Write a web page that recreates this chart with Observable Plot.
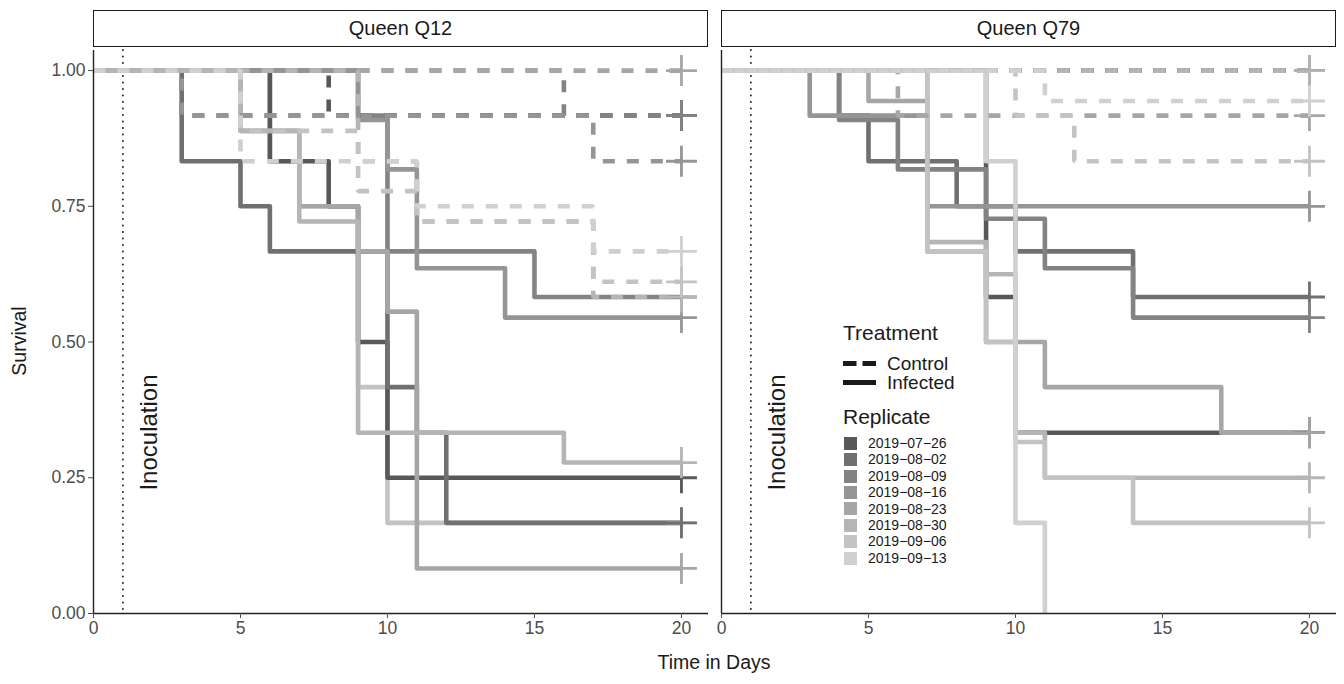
<!DOCTYPE html>
<html>
<head>
<meta charset="utf-8">
<script src="https://cdn.jsdelivr.net/npm/d3@7"></script>
<script src="https://cdn.jsdelivr.net/npm/@observablehq/plot@0.6"></script>
<style>
  body { margin: 0; background: #fff; font-family: "Liberation Sans", Arial, sans-serif; }
  #wrap { position: relative; width: 1344px; height: 684px; overflow: hidden; }
  .strip { position: absolute; top: 10px; height: 37px; width: 615px; box-sizing: border-box;
           border: 1.6px solid #1a1a1a; display: flex; align-items: center; justify-content: center;
           font-size: 20px; color: #1a1a1a; background: #fff; }
  #chart { position: absolute; left: 0; top: 50px; }
  .abs { position: absolute; white-space: nowrap; color: #1a1a1a; }
</style>
</head>
<body>
<div id="wrap"></div>
<script>
// ---------- data ----------
const replicates = ["2019-07-26","2019-08-02","2019-08-09","2019-08-16","2019-08-23","2019-08-30","2019-09-06","2019-09-13"];
const greys = ["#58585a","#707073","#838386","#959598","#a6a6a9","#b5b5b8","#c3c3c5","#d0d0d2"];
const queens = ["Queen Q12","Queen Q79"];
const treatments = ["Control","Infected"];
const xTicks = [0, 5, 10, 15, 20];
const yTicks = [0, 0.25, 0.5, 0.75, 1];
const inoculationDay = 1;
const inoculationLabel = "Inoculation";

// Kaplan-Meier steps: [day, survival]; each curve paired with its replicate label
const q12InfectedReps = ["2019-09-06","2019-07-26","2019-08-02","2019-08-09","2019-08-16","2019-08-23","2019-08-30"];
const q12InfectedSteps = [
  [[0,1],[6,0.833],[7,0.75],[9,0.417],[10,0.167],[20,0.167]],
  [[0,1],[6,0.833],[8,0.75],[9,0.5],[10,0.25],[20,0.25]],
  [[0,1],[3,0.833],[5,0.75],[6,0.667],[10,0.417],[11,0.333],[12,0.167],[20,0.167]],
  [[0,1],[9,0.917],[10,0.667],[15,0.583],[20,0.583]],
  [[0,1],[9,0.909],[10,0.818],[11,0.636],[14,0.545],[20,0.545]],
  [[0,1],[5,0.889],[7,0.75],[9,0.667],[10,0.556],[11,0.083],[20,0.083]],
  [[0,1],[5,0.889],[7,0.722],[9,0.333],[16,0.278],[20,0.278]]
];
const q12ControlReps = ["2019-07-26","2019-08-02","2019-08-09","2019-08-16","2019-08-23","2019-08-30","2019-09-06","2019-09-13"];
const q12ControlSteps = [
  [[0,1],[8,0.917],[20,0.917]],
  [[0,1],[3,0.917],[20,0.917]],
  [[0,1],[16,0.917],[20,0.917]],
  [[0,1],[3,0.917],[17,0.833],[20,0.833]],
  [[0,1],[20,1]],
  [[0,1],[9,0.833],[11,0.722],[17,0.583],[20,0.583]],
  [[0,1],[5,0.889],[9,0.778],[11,0.722],[17,0.611],[20,0.611]],
  [[0,1],[5,0.833],[11,0.75],[17,0.667],[20,0.667]]
];
const q79InfectedReps = ["2019-07-26","2019-08-02","2019-08-09","2019-08-16","2019-08-23","2019-08-30","2019-09-06","2019-09-13"];
const q79InfectedSteps = [
  [[0,1],[9,0.583],[10,0.333],[20,0.333]],
  [[0,1],[4,0.917],[5,0.833],[8,0.75],[10,0.667],[14,0.583],[20,0.583]],
  [[0,1],[4,0.909],[6,0.818],[9,0.727],[11,0.636],[14,0.545],[20,0.545]],
  [[0,1],[3,0.917],[7,0.75],[20,0.75]],
  [[0,1],[5,0.944],[7,0.667],[9,0.5],[11,0.417],[17,0.333],[20,0.333]],
  [[0,1],[7,0.684],[9,0.625],[10,0.333],[11,0.25],[20,0.25]],
  [[0,1],[7,0.667],[9,0.5],[10,0.316],[11,0.25],[14,0.167],[20,0.167]],
  [[0,1],[9,0.833],[10,0.167],[11,0]]
];
const q79ControlReps = ["2019-07-26","2019-08-02","2019-08-09","2019-08-16","2019-08-23","2019-08-30","2019-09-06","2019-09-13"];
const q79ControlSteps = [
  [[0,1],[20,1]],
  [[0,1],[20,1]],
  [[0,1],[20,1]],
  [[0,1],[20,1]],
  [[0,1],[6,0.917],[20,0.917]],
  [[0,1],[20,1]],
  [[0,1],[10,0.917],[12,0.833],[20,0.833]],
  [[0,1],[11,0.944],[20,0.944]]
];

// ---------- build tables ----------
function build(queen, treatment, reps, curves) {
  return curves.flatMap((steps, i) => steps.map(([time, surv]) => ({
    queen, treatment, replicate: reps[i], id: queen + "|" + treatment + "|" + i, time, surv
  })));
}
const infectedRows = [
  ...build(queens[0], treatments[1], q12InfectedReps, q12InfectedSteps),
  ...build(queens[1], treatments[1], q79InfectedReps, q79InfectedSteps)
];
const controlRows = [
  ...build(queens[0], treatments[0], q12ControlReps, q12ControlSteps),
  ...build(queens[1], treatments[0], q79ControlReps, q79ControlSteps)
];
const ends = d3.groups([...infectedRows, ...controlRows], d => d.id)
  .map(([, v]) => v[v.length - 1])
  .filter(d => d.surv > 0);

const font = "'Liberation Sans', Arial, sans-serif";

const chart = Plot.plot({
  width: 1344,
  height: 634,
  marginTop: 0,
  marginLeft: 93,
  marginRight: 8,
  marginBottom: 71,
  style: { fontFamily: font, background: "transparent", overflow: "visible" },
  fx: { domain: queens, paddingInner: 0.0207, paddingOuter: 0, round: false, axis: null },
  x: { domain: [0, 20.92] },
  y: { domain: [0, 1.037] },
  color: { domain: replicates, range: greys },
  marks: [
    Plot.ruleX([inoculationDay], { stroke: "#111", strokeWidth: 1.8, strokeDasharray: "0,6.5", strokeLinecap: "round" }),
    Plot.text([inoculationLabel], { x: () => inoculationDay, y: () => 1/3, dx: 26, rotate: -90, text: d => d, fontSize: 24, fill: "#1a1a1a" }),
    Plot.line(infectedRows, { x: "time", y: "surv", z: "id", fx: "queen", stroke: "replicate", curve: "step-after",
      strokeWidth: 4.6, strokeLinejoin: "round", strokeLinecap: "butt" }),
    Plot.line(controlRows, { x: "time", y: "surv", z: "id", fx: "queen", stroke: "replicate", curve: "step-after",
      strokeWidth: 4.6, strokeLinejoin: "miter", strokeLinecap: "butt", strokeDasharray: "12,12" }),
    Plot.dot(ends, { x: "time", y: "surv", fx: "queen", stroke: "replicate", symbol: "plus", r: 10, strokeWidth: 2.8 }),
    Plot.ruleX([0], { stroke: "#222", strokeWidth: 1.4 }),
    Plot.ruleY([0], { stroke: "#222", strokeWidth: 1.4 }),
    Plot.axisY({ ticks: yTicks, tickFormat: d3.format(".2f"), tickSize: 5, tickPadding: 3, fontSize: 17.5, color: "#4d4d4d", label: null }),
    Plot.axisX({ ticks: xTicks, tickFormat: d3.format("d"), tickSize: 5, tickPadding: 3, fontSize: 17.5, color: "#4d4d4d", label: null })
  ]
});

const wrap = document.getElementById("wrap");
// facet strips
const stripLefts = [93, 721];
queens.forEach((q, i) => {
  const s = document.createElement("div");
  s.className = "strip";
  s.style.left = stripLefts[i] + "px";
  s.textContent = q;
  wrap.appendChild(s);
});
chart.id = "chart";
wrap.appendChild(chart);

// axis titles
function addText(txt, css) {
  const d = document.createElement("div");
  d.className = "abs";
  d.textContent = txt;
  Object.assign(d.style, css);
  wrap.appendChild(d);
  return d;
}
addText("Survival", { left: "19px", top: "341px", fontSize: "19.5px", transform: "translate(-50%,-50%) rotate(-90deg)" });
addText("Time in Days", { left: "714px", top: "662px", fontSize: "19.5px", transform: "translate(-50%,-50%)" });

// legend
const lx = 843;
addText("Treatment", { left: lx + "px", top: "321px", fontSize: "21px", lineHeight: "24px" });
treatments.forEach((t, i) => {
  const top = 354 + i * 19;
  const svg = d3.create("svg").attr("width", 34).attr("height", 19)
    .style("position", "absolute").style("left", lx + "px").style("top", top + "px");
  svg.append("line").attr("x1", 0).attr("x2", 33).attr("y1", 9.5).attr("y2", 9.5)
    .attr("stroke", "#1a1a1a").attr("stroke-width", 5)
    .attr("stroke-dasharray", t === "Control" ? "13.5,6" : null);
  wrap.appendChild(svg.node());
  addText(t, { left: (lx + 44) + "px", top: top + "px", fontSize: "19px", lineHeight: "19px" });
});
addText("Replicate", { left: lx + "px", top: "405px", fontSize: "21px", lineHeight: "24px" });
replicates.forEach((r, i) => {
  const top = 435 + i * 16.4;
  const sw = document.createElement("div");
  Object.assign(sw.style, { position: "absolute", left: (lx + 1) + "px", top: (top + 1.7) + "px", width: "13px", height: "13px", background: greys[i] });
  wrap.appendChild(sw);
  addText(r.replace(/-/g, "\u2212"), { left: (lx + 25) + "px", top: top + "px", fontSize: "14px", lineHeight: "16.4px" });
});
</script>
</body>
</html>
